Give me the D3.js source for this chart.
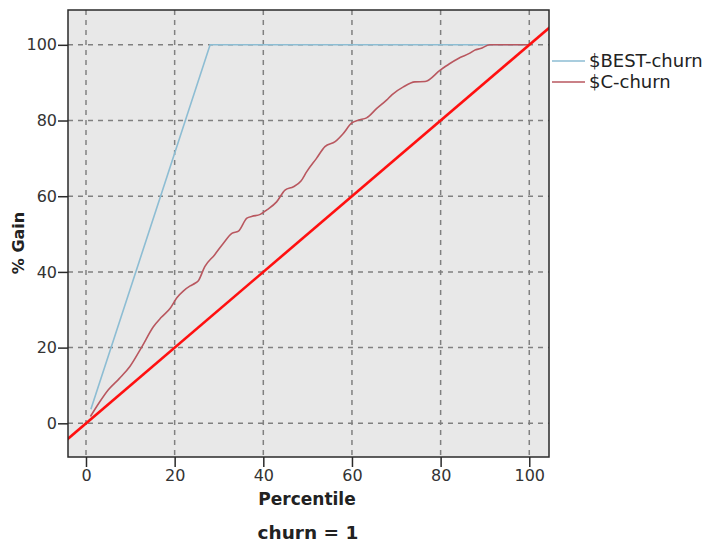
<!DOCTYPE html>
<html><head><meta charset="utf-8">
<script src="https://cdn.jsdelivr.net/npm/d3@7"></script>
<style>body{margin:0;background:#fff;} svg{display:block;font-family:"DejaVu Sans",Verdana,sans-serif;}</style>
</head><body><svg id="c" width="708" height="544"></svg>
<script>
const xTicks = [0, 20, 40, 60, 80, 100];
const yTicks = [0, 20, 40, 60, 80, 100];
const seriesNames = ["$BEST-churn", "$C-churn"];
const bestX = [1.1, 28, 100];
const bestY = [3.7, 100, 100];
const cX = [1, 3, 5, 7.5, 9.9, 12.6, 15.2, 17, 19, 20.5, 22, 23.5, 24.6, 25.3, 26.8, 29, 31, 32.9, 34.4, 36.3, 37.5, 39.3, 40.8, 43, 44.9, 46.8, 48.5, 49.8, 52, 53.9, 56.2, 58, 59.9, 61.4, 63.3, 65.6, 67.8, 69, 71.6, 74.2, 76.5, 79.9, 82, 84, 86.6, 87.7, 89, 91.1, 95, 100];
const cY = [1.8, 5.5, 8.8, 11.8, 15, 20.2, 25.5, 28, 30.4, 33.2, 35, 36.3, 37, 37.6, 41.4, 44.5, 47.6, 50.2, 50.8, 54.2, 54.7, 55.2, 56.4, 58.5, 61.6, 62.5, 64, 66.5, 70, 73.1, 74.4, 76.5, 79.3, 80.1, 80.7, 83.2, 85.4, 86.8, 88.9, 90.2, 90.3, 93.3, 95, 96.4, 97.8, 98.6, 99, 100, 100, 100];
const baseX = [-10, 110];
const baseY = [-10, 110];

const L = 68, R = 549, T = 10, B = 457;
const svg = d3.select("#c");
const x = d3.scaleLinear().domain([-4.06, 104.45]).range([L, R]);
const y = d3.scaleLinear().domain([-8.9, 109.2]).range([B, T]);

svg.append("defs").append("clipPath").attr("id","clip")
  .append("rect").attr("x",L).attr("y",T).attr("width",R-L).attr("height",B-T);

svg.append("rect").attr("x",L).attr("y",T).attr("width",R-L).attr("height",B-T).attr("fill","#e8e8e8");

// grid
const g = svg.append("g");
g.selectAll(".gx").data(xTicks).join("line")
  .attr("x1",d=>x(d)).attr("x2",d=>x(d)).attr("y1",T).attr("y2",B)
  .attr("stroke","#808080").attr("stroke-width",1.5).attr("stroke-dasharray","5,5");
g.selectAll(".gy").data(yTicks).join("line")
  .attr("y1",d=>y(d)).attr("y2",d=>y(d)).attr("x1",L).attr("x2",R)
  .attr("stroke","#808080").attr("stroke-width",1.5).attr("stroke-dasharray","5,5");

const line = d3.line().x(d=>x(d[0])).y(d=>y(d[1]));
const plot = svg.append("g").attr("clip-path","url(#clip)");
plot.append("path").datum(d3.zip(bestX,bestY)).attr("d",line)
  .attr("fill","none").attr("stroke","#8dbdd3").attr("stroke-width",1.6);
plot.append("path").datum(d3.zip(cX,cY)).attr("d",line.curve(d3.curveMonotoneX))
  .attr("fill","none").attr("stroke","#b9575f").attr("stroke-width",1.6);
plot.append("path").datum(d3.zip(baseX,baseY)).attr("d",d3.line().x(d=>x(d[0])).y(d=>y(d[1])))
  .attr("fill","none").attr("stroke","#ff1010").attr("stroke-width",2.6);

svg.append("rect").attr("x",L).attr("y",T).attr("width",R-L).attr("height",B-T)
  .attr("fill","none").attr("stroke","#2a2a2a").attr("stroke-width",1.5);

const xa = svg.append("g").attr("transform",`translate(0,${B})`)
  .call(d3.axisBottom(x).tickValues(xTicks).tickSize(10).tickPadding(3));
const ya = svg.append("g").attr("transform",`translate(${L},0)`)
  .call(d3.axisLeft(y).tickValues(yTicks).tickSize(10).tickPadding(1));
[xa,ya].forEach(a=>{
  a.select(".domain").remove();
  a.selectAll(".tick line").attr("stroke","#2a2a2a").attr("stroke-width",1.5);
  a.selectAll(".tick text").attr("fill","#333").style("font-size","16px").style("font-family","DejaVu Sans, sans-serif");
});

svg.append("text").attr("x",307).attr("y",505).attr("text-anchor","middle")
  .style("font-size","17px").style("font-weight","bold").attr("fill","#222").text("Percentile");
svg.append("text").attr("transform","translate(24,243) rotate(-90)").attr("text-anchor","middle")
  .style("font-size","16px").style("font-weight","bold").attr("fill","#222").text("% Gain");
svg.append("text").attr("x",308).attr("y",539).attr("text-anchor","middle")
  .style("font-size","18.5px").style("font-weight","bold").attr("fill","#222").text("churn = 1");

const legColors = ["#8dbdd3","#b9575f"];
const leg = svg.append("g");
seriesNames.forEach((n,i)=>{
  const yy = 61 + i*21;
  leg.append("line").attr("x1",552).attr("x2",585).attr("y1",yy).attr("y2",yy)
    .attr("stroke",legColors[i]).attr("stroke-width",1.6);
  leg.append("text").attr("x",589).attr("y",yy).attr("dy","0.35em")
    .style("font-size","18px").attr("fill","#222").text(n);
});
</script></body></html>
